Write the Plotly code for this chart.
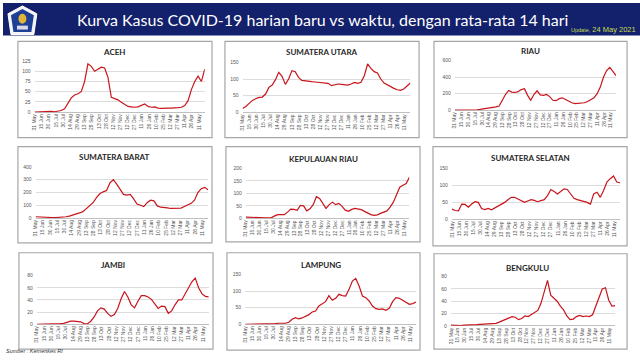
import plotly.graph_objects as go
import pandas as pd

W, H = 640, 360

# weekly readings, 31 May 2020 .. 23 May 2021
start_date = "2020-05-31"
n_points = 52
dates = pd.date_range(start_date, periods=n_points, freq="7D")

aceh = [0, 0.5, 1, 2, 3, 2, 1, 2, 4, 8, 22, 35, 42, 45, 50, 75, 118, 112, 100, 105,
        110, 108, 85, 36, 33, 30, 24, 18, 14, 13, 12, 13, 16, 20, 14, 12, 13, 10, 9, 10,
        10, 10, 10, 11, 12, 16, 28, 55, 75, 88, 75, 105]
sumut = [12, 18, 27, 36, 41, 45, 46, 55, 75, 82, 98, 120, 108, 84, 100, 125, 122, 105, 96, 94,
         93, 92, 91, 90, 89, 88, 87, 80, 82, 85, 84, 83, 82, 85, 90, 87, 90, 110, 145, 132,
         122, 118, 100, 88, 82, 76, 72, 68, 66, 70, 80, 88]
riau = [0, 0, 3, 5, 3, 0, 2, 5, 10, 15, 25, 30, 38, 40, 50, 130, 190, 240, 220, 215,
        225, 250, 260, 180, 120, 190, 235, 185, 180, 190, 165, 120, 115, 140, 150, 130, 105, 90, 80, 85,
        90, 90, 105, 125, 150, 200, 280, 400, 480, 520, 470, 420]
sumbar = [10, 8, 6, 5, 4, 4, 4, 5, 6, 10, 15, 22, 30, 40, 50, 75, 95, 120, 160, 190,
          205, 215, 275, 300, 265, 225, 185, 180, 185, 150, 110, 100, 90, 120, 140, 135, 95, 85, 85, 80,
          75, 75, 76, 78, 90, 100, 115, 140, 200, 230, 240, 222]
kepri = [5, 4, 3, 3, 2, 2, 2, 2, 3, 10, 15, 15, 15, 25, 37, 36, 32, 52, 50, 30,
         38, 55, 87, 80, 58, 40, 55, 65, 55, 60, 48, 33, 28, 36, 40, 38, 35, 28, 20, 15,
         12, 14, 20, 24, 30, 45, 65, 95, 125, 133, 140, 165]
sumsel = [30, 26, 25, 45, 44, 36, 45, 52, 50, 32, 29, 32, 28, 33, 40, 44, 50, 58, 65, 65,
          60, 55, 50, 54, 58, 56, 52, 55, 58, 70, 88, 82, 75, 82, 90, 88, 74, 62, 58, 56,
          53, 50, 45, 75, 80, 65, 85, 110, 120, 128, 110, 108]
jambi = [0, 0, 0, 0, 0, 0, 0.5, 1, 1.5, 3, 5, 5, 5, 4, 1, 0.5, 5, 12, 22, 27,
         25, 18, 13, 16, 26, 42, 54, 45, 32, 27, 38, 47, 47, 45, 41, 33, 26, 30, 29, 18,
         22, 32, 40, 40, 50, 58, 70, 76, 60, 50, 46, 45]
lampung = [0, 0, 0, 0, 0, 0, 0.5, 1, 1.5, 2, 3, 2, 3, 6, 15, 20, 16, 19, 24, 29,
           37, 40, 55, 62, 68, 86, 72, 78, 90, 86, 85, 105, 130, 138, 115, 85, 80, 70, 55, 47,
           45, 46, 42, 48, 68, 80, 78, 72, 65, 60, 62, 67]
bengkulu = [1, 0.5, 0.5, 0.5, 1, 1, 1.5, 2, 2, 2.5, 3, 3, 3, 3.5, 4, 6, 8, 10, 12, 15,
            14, 10, 12, 16, 15, 18, 22, 25, 37, 58, 74, 50, 45, 40, 32, 26, 16, 10, 11, 15,
            17, 15, 16, 15, 18, 32, 46, 60, 62, 42, 32, 33]

region_names = ["ACEH", "SUMATERA UTARA", "RIAU", "SUMATERA BARAT", "KEPULAUAN RIAU",
                "SUMATERA SELATAN", "JAMBI", "LAMPUNG", "BENGKULU"]
region_series = [aceh, sumut, riau, sumbar, kepri, sumsel, jambi, lampung, bengkulu]
y_max = [125, 150, 600, 400, 200, 150, 80, 150, 80]
y_step = [25, 50, 200, 100, 50, 50, 20, 50, 20]

title_text = "Kurva Kasus COVID-19 harian baru vs waktu, dengan rata-rata 14 hari"
source_text = "Sumber : Kemenkes RI"

# layout geometry in pixels: box (x0,y0,x1,y1), plot (x0,x1,ytop,ybottom), title center
boxes = [(15, 39, 210, 137), (223, 39, 418, 137), (433, 39, 627, 137),
         (15, 146, 210, 244), (224, 146, 419, 243), (432, 146, 627, 247),
         (16, 254, 211, 352), (225, 254, 419, 353), (433, 255, 627, 352)]
plots = [(31.7, 202.7, 59, 111), (240.7, 409.3, 60.3, 111.3), (454, 616, 58.7, 109),
         (32.7, 206, 166.7, 218.7), (244, 408.3, 168.3, 219), (451, 620, 168.3, 220),
         (34, 206.7, 277.3, 326.7), (243.3, 415, 276, 326.7), (450, 615, 278.3, 328.3)]
titles_xy = [(112, 50), (320, 50), (530, 49), (111.7, 156.7), (321.7, 158.3), (530, 157.3),
             (111, 266.7), (319.3, 266.7), (526.7, 269)]

def px(x):
    return x / W

def py(y):
    return 1 - y / H

fig = go.Figure()
shapes = []
annotations = []
layout_axes = {}

line_color = "#c8141b"
grid_color = "#dcdcdc"
tick_font = dict(family="Liberation Sans, Arial", size=5, color="#555555")

for k in range(9):
    sfx = "" if k == 0 else str(k + 1)
    fig.add_trace(go.Scatter(x=dates, y=region_series[k], mode="lines",
                             line=dict(color=line_color, width=1.2),
                             xaxis="x" + sfx, yaxis="y" + sfx, showlegend=False,
                             hoverinfo="skip"))
    x0, x1, yt, yb = plots[k]
    layout_axes["xaxis" + sfx] = dict(
        domain=[px(x0), px(x1)], anchor="y" + sfx, type="date",
        range=["2020-05-31", "2021-05-23"], tick0="2020-05-31", dtick=15 * 86400000,
        tickformat="%d %b", tickangle=-90, tickfont=tick_font, showgrid=False,
        zeroline=False, showline=False, ticks="", fixedrange=True)
    layout_axes["yaxis" + sfx] = dict(
        domain=[py(yb), py(yt)], anchor="x" + sfx, range=[0, y_max[k]],
        dtick=y_step[k], tick0=0, tickfont=tick_font, showgrid=True,
        gridcolor=grid_color, gridwidth=0.7, zeroline=True, zerolinecolor="#bfbfbf",
        zerolinewidth=0.8, showline=False, ticks="", ticklabelstandoff=3, fixedrange=True)
    bx0, by0, bx1, by1 = boxes[k]
    shapes.append(dict(type="rect", xref="paper", yref="paper", x0=px(bx0), x1=px(bx1),
                       y0=py(by1), y1=py(by0), line=dict(color="#a6a6a6", width=1.2),
                       fillcolor="rgba(0,0,0,0)", layer="below"))
    tx, ty = titles_xy[k]
    annotations.append(dict(text="<b>" + region_names[k] + "</b>", xref="paper", yref="paper",
                            x=px(tx), y=py(ty), showarrow=False, xanchor="center",
                            yanchor="middle", font=dict(family="Lato, Liberation Sans", size=8,
                                                        color="#262626")))

# header band
shapes.append(dict(type="rect", xref="paper", yref="paper", x0=0, x1=1, y0=py(33), y1=1,
                   fillcolor="#13206b", line=dict(width=0), layer="below"))
# logo
def path_pts(pts):
    return "M " + " L ".join(f"{px(a)},{py(b)}" for a, b in pts) + " Z"

shapes.append(dict(type="path", xref="paper", yref="paper",
                   path=path_pts([(19.5, 3), (34, 11), (31, 32), (8, 32), (5, 11)]),
                   fillcolor="#f4f4f4", line=dict(color="#ffffff", width=1)))
shapes.append(dict(type="path", xref="paper", yref="paper",
                   path=path_pts([(19.5, 6), (31, 12.5), (28.5, 29.5), (10.5, 29.5), (8, 12.5)]),
                   fillcolor="#1d3f95", line=dict(width=0)))
shapes.append(dict(type="circle", xref="paper", yref="paper", x0=px(15.5), x1=px(23.5),
                   y0=py(21), y1=py(11), fillcolor="#e0b53a", line=dict(width=0)))
shapes.append(dict(type="rect", xref="paper", yref="paper", x0=px(14), x1=px(25),
                   y0=py(27), y1=py(23), fillcolor="#d8d8e8", line=dict(width=0)))

annotations.append(dict(text=title_text, xref="paper", yref="paper", x=px(321), y=py(17),
                        showarrow=False, xanchor="center", yanchor="middle",
                        font=dict(family="Lato", size=16, color="#ffffff")))
annotations.append(dict(text="<span style='font-size:5.5px'>Update,</span> 24 May 2021",
                        xref="paper", yref="paper", x=px(638), y=py(27), showarrow=False,
                        xanchor="right", yanchor="middle",
                        font=dict(family="Liberation Sans", size=7.5, color="#c9dc4a")))
annotations.append(dict(text="<i>" + source_text + "</i>", xref="paper", yref="paper",
                        x=px(1), y=py(354), showarrow=False, xanchor="left", yanchor="middle",
                        font=dict(family="Liberation Sans", size=5.5, color="#333333")))

fig.update_layout(width=W, height=H, autosize=False, margin=dict(l=0, r=0, t=0, b=0),
                  paper_bgcolor="#ffffff", plot_bgcolor="rgba(0,0,0,0)",
                  shapes=shapes, annotations=annotations, **layout_axes)

fig.write_html("out.html", config={"displayModeBar": False},
               post_script="document.body.style.margin='0';document.body.style.overflow='hidden';")
